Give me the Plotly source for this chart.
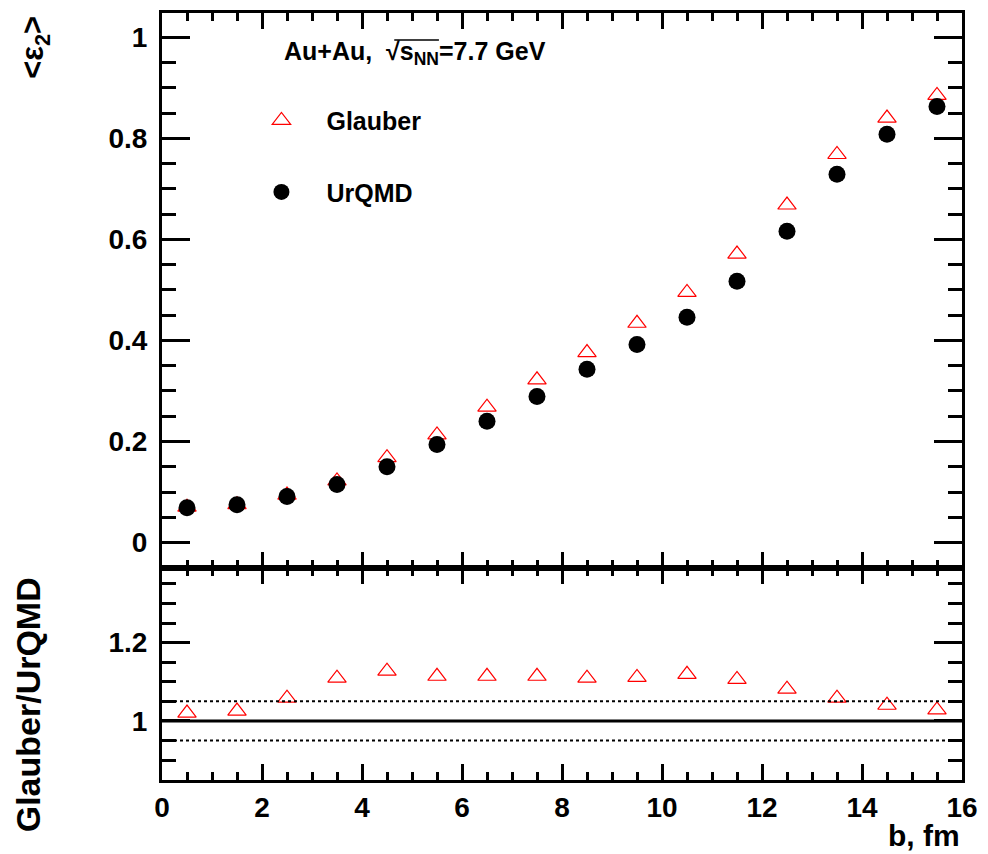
import plotly.graph_objects as go

# ---- data ----
b_fm = [0.5, 1.5, 2.5, 3.5, 4.5, 5.5, 6.5, 7.5, 8.5, 9.5, 10.5, 11.5, 12.5, 13.5, 14.5, 15.5]
eps2_glauber = [0.070, 0.075, 0.094, 0.122, 0.168, 0.213, 0.268, 0.322, 0.376, 0.434,
                0.495, 0.571, 0.668, 0.768, 0.840, 0.885]
eps2_urqmd = [0.069, 0.075, 0.091, 0.115, 0.150, 0.194, 0.240, 0.289, 0.343, 0.392,
              0.446, 0.517, 0.616, 0.729, 0.808, 0.863]
ratio_glauber_urqmd = [1.020, 1.025, 1.058, 1.109, 1.127, 1.114, 1.114, 1.114, 1.109, 1.111,
                       1.119, 1.106, 1.081, 1.058, 1.040, 1.028]
ref_solid = [1.0]
ref_dotted = [0.95, 1.05]

FONT = "Liberation Sans"
TICKF = dict(family=FONT, size=28, color="black", weight="bold")

fig = go.Figure()

fig.add_trace(go.Scatter(
    x=b_fm, y=eps2_glauber, mode="markers", name="Glauber",
    marker=dict(symbol="triangle-up-open", size=16, color="red", line=dict(width=1.2, color="red")),
    xaxis="x", yaxis="y", legendgroup="g1"))
fig.add_trace(go.Scatter(
    x=b_fm, y=eps2_urqmd, mode="markers", name="UrQMD",
    marker=dict(symbol="circle", size=17, color="black"),
    xaxis="x", yaxis="y", legendgroup="g2"))
fig.add_trace(go.Scatter(
    x=b_fm, y=ratio_glauber_urqmd, mode="markers", name="ratio", showlegend=False,
    marker=dict(symbol="triangle-up-open", size=16, color="red", line=dict(width=1.2, color="red")),
    xaxis="x2", yaxis="y2"))

shapes = []
for v in ref_solid:
    shapes.append(dict(type="line", xref="x2", yref="y2", x0=0, x1=16, y0=v, y1=v,
                       line=dict(color="black", width=3)))
for v in ref_dotted:
    shapes.append(dict(type="line", xref="x2", yref="y2", x0=0, x1=16, y0=v, y1=v,
                       line=dict(color="black", width=2, dash="dot")))
# overline of the square-root sign in the header text
shapes.append(dict(type="line", xref="paper", yref="paper",
                   x0=(396 - 162) / 806, x1=(441 - 162) / 806,
                   y0=(780 - 37) / 770, y1=(780 - 37) / 770,
                   line=dict(color="black", width=1.5)))

def xax(**kw):
    d = dict(range=[0, 16], showgrid=False, zeroline=False, showline=True, linewidth=3,
             linecolor="black", mirror="allticks", ticks="inside", ticklen=16, tickwidth=2.5,
             tickcolor="black", dtick=2, tick0=0,
             minor=dict(dtick=0.5, ticklen=8, tickwidth=2.5, ticks="inside", tickcolor="black"),
             tickfont=TICKF)
    d.update(kw)
    return d

def yax(**kw):
    d = dict(showgrid=False, zeroline=False, showline=True, linewidth=3,
             linecolor="black", mirror="allticks", ticks="inside", ticklen=28, tickwidth=2.5,
             tickcolor="black", dtick=0.2, tick0=0,
             minor=dict(dtick=0.05, ticklen=14, tickwidth=2.5, ticks="inside", tickcolor="black"),
             tickfont=TICKF, ticklabelstandoff=6)
    d.update(kw)
    return d

split = (780 - 567) / 770

fig.update_layout(
    width=988, height=854,
    margin=dict(l=162, r=20, t=10, b=74),
    paper_bgcolor="white", plot_bgcolor="white",
    shapes=shapes,
    xaxis=xax(anchor="y", showticklabels=False, matches="x2"),
    xaxis2=xax(anchor="y2", showticklabels=True),
    yaxis=yax(domain=[split, 1], range=[-0.05, 1.048], anchor="x"),
    yaxis2=yax(domain=[0, split], range=[0.849, 1.391], anchor="x2"),
    legend=dict(x=(237 - 162) / 806, y=(780 - 95) / 770, xanchor="left", yanchor="top",
                bgcolor="rgba(0,0,0,0)", itemwidth=80, tracegroupgap=36,
                font=dict(family=FONT, size=25, color="black", weight="bold")),
    showlegend=True,
    annotations=[
        dict(text="Au+Au,  √s<sub>NN</sub>=7.7 GeV", xref="paper", yref="paper",
             x=(283 - 162) / 806, y=(780 - 50) / 770, xanchor="left", yanchor="middle",
             showarrow=False, font=dict(family=FONT, size=25, color="black", weight="bold")),
        dict(text="&lt;ε<sub>2</sub>&gt;", xref="paper", yref="paper", textangle=-90,
             x=(34 - 162) / 806, y=(780 - 44) / 770, xanchor="center", yanchor="middle",
             showarrow=False, font=dict(family=FONT, size=31, color="black", weight="bold")),
        dict(text="Glauber/UrQMD", xref="paper", yref="paper", textangle=-90,
             x=(27 - 162) / 806, y=(780 - 705) / 770, xanchor="center", yanchor="middle",
             showarrow=False, font=dict(family=FONT, size=34, color="black", weight="bold")),
        dict(text="b, fm", xref="paper", yref="paper",
             x=1.0, y=(780 - 836) / 770, xanchor="right", yanchor="middle",
             showarrow=False, font=dict(family=FONT, size=30, color="black", weight="bold")),
    ],
)

fig.write_html("out.html")
